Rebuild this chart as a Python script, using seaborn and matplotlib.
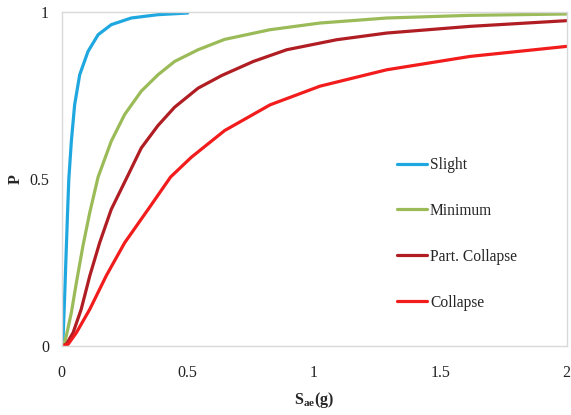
import numpy as np
import pandas as pd
import matplotlib
matplotlib.use("Agg")
import matplotlib.pyplot as plt
import seaborn as sns

# Values
slight_x = [0.0, 0.006, 0.012, 0.018, 0.024, 0.029, 0.039, 0.052, 0.072, 0.105, 0.145, 0.197, 0.276, 0.382, 0.50]
slight_p = [0.0, 0.02, 0.14, 0.27, 0.40, 0.50, 0.613, 0.722, 0.812, 0.882, 0.932, 0.962, 0.982, 0.992, 0.997]

minimum_x = [0.0, 0.010, 0.019, 0.039, 0.059, 0.085, 0.112, 0.145, 0.197, 0.25, 0.316, 0.382, 0.448, 0.541, 0.646, 0.826, 1.024, 1.288, 1.618, 2.0]
minimum_p = [0.0, 0.006, 0.03, 0.10, 0.19, 0.30, 0.40, 0.506, 0.613, 0.693, 0.763, 0.812, 0.852, 0.887, 0.918, 0.947, 0.967, 0.982, 0.990, 0.994]

partial_x = [0.0, 0.019, 0.046, 0.078, 0.112, 0.151, 0.197, 0.26, 0.316, 0.382, 0.448, 0.541, 0.635, 0.76, 0.892, 1.09, 1.288, 1.618, 2.0]
partial_p = [0.0, 0.005, 0.04, 0.11, 0.21, 0.309, 0.409, 0.506, 0.593, 0.66, 0.715, 0.772, 0.81, 0.852, 0.887, 0.917, 0.937, 0.957, 0.974]

collapse_x = [0.0, 0.026, 0.059, 0.112, 0.177, 0.25, 0.343, 0.432, 0.514, 0.646, 0.826, 1.024, 1.288, 1.618, 2.0]
collapse_p = [0.0, 0.005, 0.04, 0.11, 0.21, 0.309, 0.409, 0.506, 0.565, 0.645, 0.722, 0.778, 0.827, 0.867, 0.897]

labels = ["Slight", "Minimum", "Part. Collapse", "Collapse"]
colors = ["#1FA8E0", "#9BBB59", "#B01E23", "#F21C1C"]

x_ticks = [0, 0.5, 1, 1.5, 2]
x_tick_labels = ["0", "0.5", "1", "1.5", "2"]
y_ticks = [0, 0.5, 1]
y_tick_labels = ["0", "0.5", "1"]

frames = []
for name, xs, ps in zip(labels, [slight_x, minimum_x, partial_x, collapse_x],
                        [slight_p, minimum_p, partial_p, collapse_p]):
    frames.append(pd.DataFrame({"Sae": xs, "P": ps, "state": name}))
df = pd.concat(frames, ignore_index=True)

sns.set_theme(style="white")
plt.rcParams["font.family"] = ["Liberation Serif", "DejaVu Serif"]
plt.rcParams["mathtext.fontset"] = "custom"
plt.rcParams["mathtext.rm"] = "Liberation Serif"
plt.rcParams["mathtext.bf"] = "Liberation Serif:bold"
plt.rcParams["mathtext.it"] = "Liberation Serif:italic"

fig = plt.figure(figsize=(5.71, 4.15), dpi=100)
ax = fig.add_axes([61.5 / 571, 1 - 346 / 415, 505 / 571, 334 / 415])

sns.lineplot(data=df, x="Sae", y="P", hue="state", hue_order=labels,
             palette=dict(zip(labels, colors)), sort=False, estimator=None,
             linewidth=2.3, ax=ax)

ax.set_xlim(0, 2)
ax.set_ylim(0, 1)
ax.set_xticks(x_ticks)
ax.set_xticklabels(x_tick_labels)
ax.set_yticks(y_ticks)
ax.set_yticklabels(y_tick_labels)
ax.tick_params(axis="both", length=0, labelsize=11.5, colors="#222222")
ax.tick_params(axis="x", pad=14)
ax.tick_params(axis="y", pad=9)

for side in ["left", "bottom", "top", "right"]:
    ax.spines[side].set_color("#D9D9D9")
    ax.spines[side].set_linewidth(1.0)

ax.set_xlabel(r"$\mathbf{S_{ae}(g)}$", fontsize=11.5, labelpad=6)
ax.set_ylabel("P", fontsize=11.5, fontweight="bold", labelpad=4)

leg = ax.legend(loc="upper left", bbox_to_anchor=(0.648, 0.589), frameon=False,
                fontsize=11.2, handlelength=1.95, handletextpad=0.2,
                labelspacing=1.92, borderpad=0)
for line in leg.get_lines():
    line.set_linewidth(2.3)

fig.savefig("out.png", dpi=100)
